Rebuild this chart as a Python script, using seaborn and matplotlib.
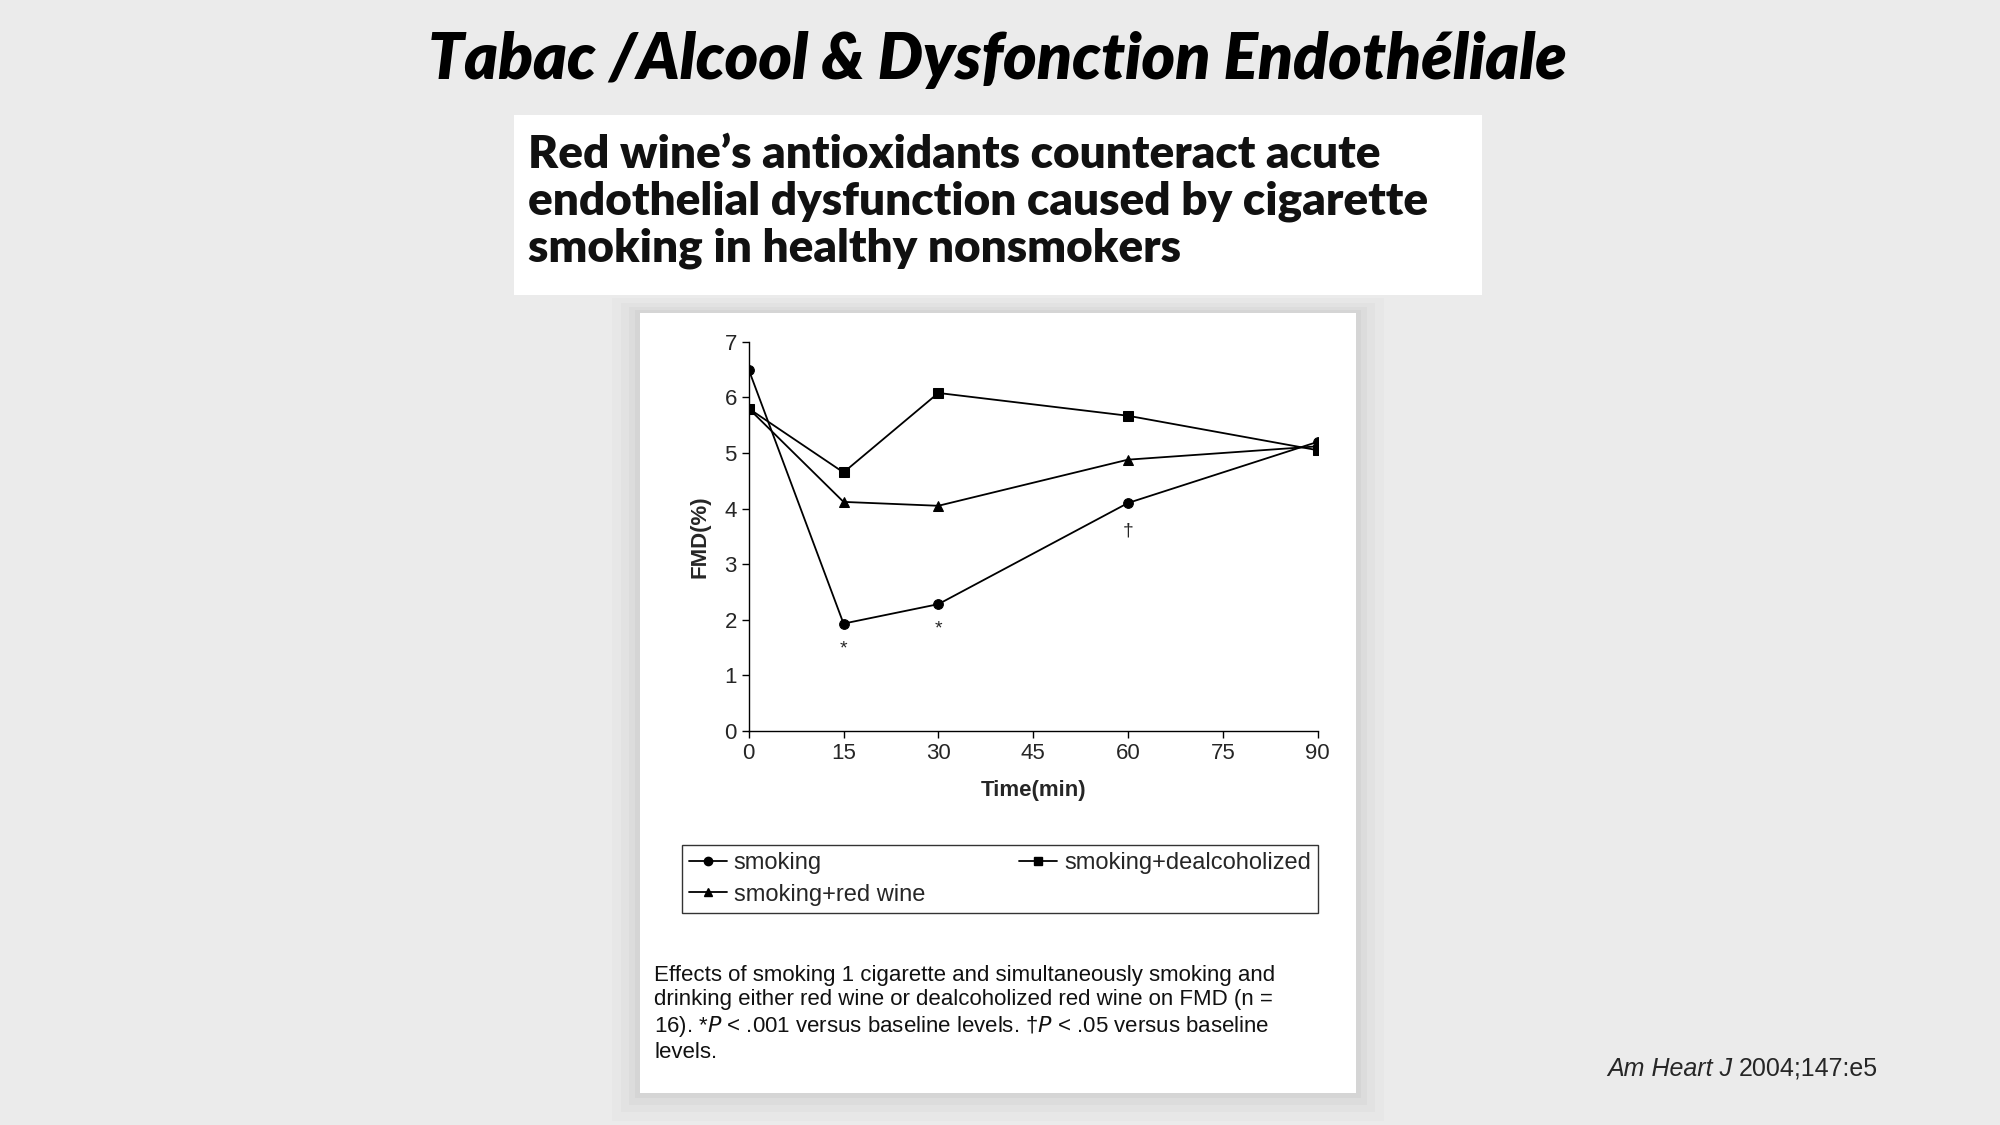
import matplotlib
matplotlib.use("Agg")
import matplotlib.pyplot as plt
from matplotlib.patches import Rectangle
import seaborn as sns
import pandas as pd

# données
temps = [0, 15, 30, 60, 90]
fmd_smoking = [6.5, 1.93, 2.28, 4.1, 5.2]
fmd_dealc = [5.8, 4.65, 6.08, 5.67, 5.05]
fmd_wine = [5.8, 4.12, 4.05, 4.88, 5.12]
series = ["smoking", "smoking+red wine", "smoking+dealcoholized"]
marqueurs = {"smoking": "o", "smoking+red wine": "^", "smoking+dealcoholized": "s"}

df = pd.DataFrame({
    "Time": temps * 3,
    "FMD": fmd_smoking + fmd_wine + fmd_dealc,
    "serie": [series[0]] * 5 + [series[1]] * 5 + [series[2]] * 5,
})

sns.set_theme(style="white")
plt.rcParams["font.family"] = ["Liberation Sans", "DejaVu Sans"]

W, H = 1568, 882  # coordonnées de la capture
fig = plt.figure(figsize=(20, 11.25), dpi=100, facecolor="#ebebeb")

def box(x0, y0, x1, y1, **kw):
    fig.patches.append(Rectangle((x0 / W, 1 - y1 / H), (x1 - x0) / W, (y1 - y0) / H,
                                 transform=fig.transFigure, zorder=-5, **kw))

# ombre + panneaux blancs
for d, a in [(22, 0.015), (15, 0.02), (9, 0.025), (4, 0.03)]:
    box(502 - d, 245 - d / 2, 1063 + d, 857 + d, facecolor="black", alpha=a, lw=0)
box(403, 90, 1162, 231, facecolor="white", lw=0)
box(502, 245, 1063, 857, facecolor="white", lw=0)

fig.text(782 / W, 1 - 47 / H, "Tabac /Alcool & Dysfonction Endothéliale", ha="center", va="center",
         fontsize=46, fontweight="heavy", style="italic", family="Lato", color="black")
fig.text(414 / W, 1 - 158 / H, "Red wine’s antioxidants counteract acute\nendothelial dysfunction caused by cigarette\nsmoking in healthy nonsmokers",
         ha="left", va="center", fontsize=33, fontweight="heavy", family="Lato", linespacing=1.15, color="#111111")

ax = fig.add_axes([587 / W, 1 - 573 / H, (1033 - 587) / W, (573 - 268) / H])
ax.set_facecolor("white")
sns.lineplot(data=df, x="Time", y="FMD", hue="serie", style="serie", markers=marqueurs, dashes=False,
             palette=["black"] * 3, markersize=7, linewidth=1.3, markeredgecolor="black", ax=ax, legend=False)
ax.set_xlim(0, 90)
ax.set_ylim(0, 7)
ax.set_xticks(range(0, 91, 15))
ax.set_yticks(range(0, 8))
for s in ["top", "right"]:
    ax.spines[s].set_visible(False)
for s in ["left", "bottom"]:
    ax.spines[s].set_color("black")
    ax.spines[s].set_linewidth(1)
ax.tick_params(axis="both", direction="out", length=5, width=1, color="black", labelsize=16, left=True, bottom=True)
ax.set_xlabel("Time(min)", fontsize=16, fontweight="bold", labelpad=12)
ax.set_ylabel("FMD(%)", fontsize=16, fontweight="bold", labelpad=10)

ax.text(15, fmd_smoking[1] - 0.3, "*", ha="center", va="top", fontsize=14)
ax.text(30, fmd_smoking[2] - 0.3, "*", ha="center", va="top", fontsize=14)
ax.text(60, fmd_smoking[3] - 0.35, "†", ha="center", va="top", fontsize=14)

handles = [plt.Line2D([], [], color="black", marker=marqueurs[s], markersize=6, lw=1.3) for s in series]
leg = fig.legend(handles, series, loc="center", bbox_to_anchor=(784 / W, 1 - 689 / H), ncol=2,
                 fontsize=17, frameon=True, fancybox=False, edgecolor="black", handlelength=1.6,
                 handletextpad=0.3, columnspacing=4.0, borderpad=0.3, labelspacing=0.4)
leg.get_frame().set_linewidth(1)

fig.text(513 / W, 1 - 795 / H,
         "Effects of smoking 1 cigarette and simultaneously smoking and\n"
         "drinking either red wine or dealcoholized red wine on FMD (n =\n"
         "16). *$P$ < .001 versus baseline levels. †$P$ < .05 versus baseline\nlevels.",
         ha="left", va="center", fontsize=16, linespacing=1.2, color="#111111", family="Liberation Sans")

fig.text(1358 / W, 1 - 838 / H, "Am Heart J", ha="right", va="center", fontsize=18, style="italic")
fig.text(1363 / W, 1 - 838 / H, "2004;147:e5", ha="left", va="center", fontsize=18)

fig.savefig("out.png", dpi=100, facecolor=fig.get_facecolor())
